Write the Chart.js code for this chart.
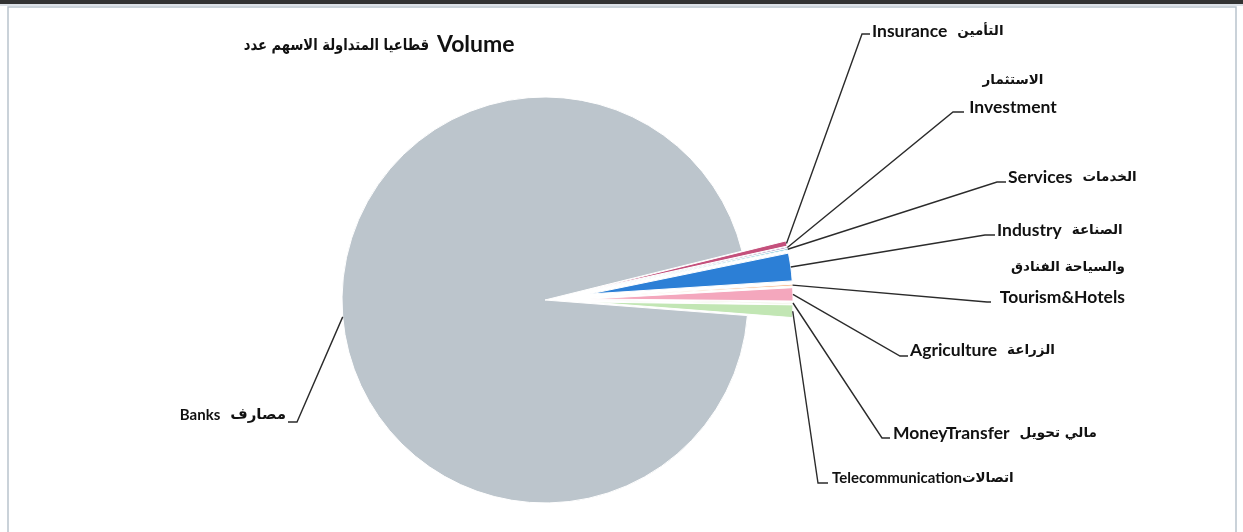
<!DOCTYPE html>
<html>
<head>
<meta charset="utf-8">
<script src="https://cdn.jsdelivr.net/npm/chart.js@4"></script>
<style>
	body { margin: 0; background: #fff; }
	canvas { display: block; }
</style>
</head>
<body>
<canvas id="sectorChart" width="1243" height="532"></canvas>
<script>
// sectors, english / arabic names
const categoriesEn = ['Banks', 'Insurance', 'Investment', 'Services', 'Industry', 'Tourism&Hotels', 'Agriculture', 'MoneyTransfer', 'Telecommunication']
const categoriesAr = ['مصارف', 'التأمين', 'الاستثمار', 'الخدمات', 'الصناعة', 'الفنادق والسياحة', 'الزراعة', 'تحويل مالي', 'اتصالات']
// share of traded volume (%)
const volumeShare = [94.91, 0.42, 0.11, 0.11, 2.2, 0.14, 1.05, 0.06, 1.0]
const sliceColors = ['#bcc5cc', '#c4507c', '#8064a2', '#4bacc6', '#2c7fd6', '#f4b183', '#f4a7bd', '#9bbb59', '#c2e6b4']
const titleAr = 'عدد الاسهم المتداولة قطاعيا'
const titleEn = 'Volume'

const EN_FONT = "Lato, 'DejaVu Sans', sans-serif"
const AR_FONT = "'DejaVu Sans', sans-serif"
const EXPLODE = 45

// words kept in left-to-right order like the sheet shows them
const ltrWords = s => s.split(' ').join(' \u200E')

// where each label sits (manual placement like in the excel sheet)
const labelLayout = [
	{ elbow: [297, 422], end: 288, mode: 'inline', x: 286, y: 415, align: 'right', en: 15, ar: 15 },
	{ elbow: [862, 34], end: 870, mode: 'inline', x: 872, y: 31, align: 'left' },
	{ elbow: [953, 112], end: 964, mode: 'stack', x: 1013, y1: 80, y2: 107, align: 'center' },
	{ elbow: [997, 182], end: 1006, mode: 'inline', x: 1008, y: 177, align: 'left' },
	{ elbow: [985, 235], end: 995, mode: 'inline', x: 997, y: 230, align: 'left' },
	{ elbow: [987, 302], end: 991, mode: 'stack', x: 1125, y1: 267, y2: 297, align: 'right' },
	{ elbow: [900, 356], end: 908, mode: 'inline', x: 910, y: 350, align: 'left' },
	{ elbow: [882, 438], end: 890, mode: 'inline', x: 893, y: 433, align: 'left' },
	{ elbow: [818, 483], end: 828, mode: 'inline', x: 832, y: 478, align: 'left', en: 15, gap: 0 },
]

const framePlugin = {
	id: 'frame',
	beforeDraw(chart) {
		const c = chart.ctx
		c.save()
		c.fillStyle = '#fff'
		c.fillRect(0, 0, chart.width, chart.height)
		c.fillStyle = '#333'
		c.fillRect(0, 0, chart.width, 4)
		c.fillStyle = '#dde2e8'
		c.fillRect(0, 4, chart.width, 2)
		c.strokeStyle = '#b9c3cd'
		c.lineWidth = 1.5
		c.beginPath()
		c.moveTo(8, chart.height)
		c.lineTo(8, 7)
		c.lineTo(1236, 7)
		c.lineTo(1236, chart.height)
		c.stroke()
		c.restore()
	},
}

// pull the small sectors out of the pie
const explodePlugin = {
	id: 'explode',
	afterDatasetUpdate(chart, args) {
		args.meta.data.forEach((arc, i) => {
			if (i === 0) return
			const mid = (arc.startAngle + arc.endAngle) / 2
			arc.x += Math.cos(mid) * EXPLODE
			arc.y += Math.sin(mid) * EXPLODE
		})
	},
}

const labelPlugin = {
	id: 'sectorLabels',
	afterDatasetsDraw(chart) {
		const c = chart.ctx
		const meta = chart.getDatasetMeta(0)
		c.save()
		c.fillStyle = '#111'
		c.textBaseline = 'middle'

		// title (arabic part squeezed a bit so it keeps its width)
		c.save()
		c.translate(429, 46)
		c.scale(0.82, 1)
		c.font = 'bold 16px ' + AR_FONT
		c.textAlign = 'right'
		c.fillText(ltrWords(titleAr), 0, 0)
		c.restore()
		c.font = 'bold 23px ' + EN_FONT
		c.textAlign = 'left'
		c.fillText(titleEn, 437, 45)

		meta.data.forEach((arc, i) => {
			const L = labelLayout[i]
			const p = arc.getProps(['x', 'y', 'startAngle', 'endAngle', 'outerRadius'], true)
			const mid = (p.startAngle + p.endAngle) / 2
			const sx = p.x + Math.cos(mid) * p.outerRadius
			const sy = p.y + Math.sin(mid) * p.outerRadius

			c.strokeStyle = '#2b2b2b'
			c.lineWidth = 1.4
			c.beginPath()
			c.moveTo(sx, sy)
			c.lineTo(L.elbow[0], L.elbow[1])
			c.lineTo(L.end, L.elbow[1])
			c.stroke()

			const enFont = 'bold ' + (L.en || 17.5) + 'px ' + EN_FONT
			const arFont = 'bold ' + (L.ar || 13.5) + 'px ' + AR_FONT
			const en = categoriesEn[i]
			const ar = ltrWords(categoriesAr[i])
			if (L.mode === 'stack') {
				c.textAlign = L.align
				c.font = arFont
				c.fillText(ar, L.x, L.y1)
				c.font = enFont
				c.fillText(en, L.x, L.y2)
			} else {
				const gap = L.gap !== undefined ? L.gap : 10
				if (L.align === 'right') {
					c.textAlign = 'right'
					c.font = arFont
					const w = c.measureText(ar).width
					c.fillText(ar, L.x, L.y)
					c.font = enFont
					c.fillText(en, L.x - w - gap, L.y)
				} else {
					c.textAlign = 'left'
					c.font = enFont
					const w = c.measureText(en).width
					c.fillText(en, L.x, L.y)
					c.font = arFont
					c.fillText(ar, L.x + w + gap, L.y)
				}
			}
		})
		c.restore()
	},
}

const ctx = document.getElementById('sectorChart').getContext('2d')
const sectorChart = new Chart(ctx, {
	type: 'pie',
	data: {
		labels: categoriesEn,
		datasets: [
			{
				data: volumeShare,
				backgroundColor: sliceColors,
				borderColor: '#fff',
				borderWidth: 1,
				radius: 203,
			},
		],
	},
	options: {
		responsive: false,
		devicePixelRatio: 1,
		animation: false,
		events: [],
		rotation: 94.4,
		layout: { padding: { left: 0, right: 153, top: 68, bottom: 0 } },
		plugins: {
			legend: { display: false },
			tooltip: { enabled: false },
			title: { display: false },
		},
	},
	plugins: [framePlugin, explodePlugin, labelPlugin],
})
</script>
</body>
</html>
